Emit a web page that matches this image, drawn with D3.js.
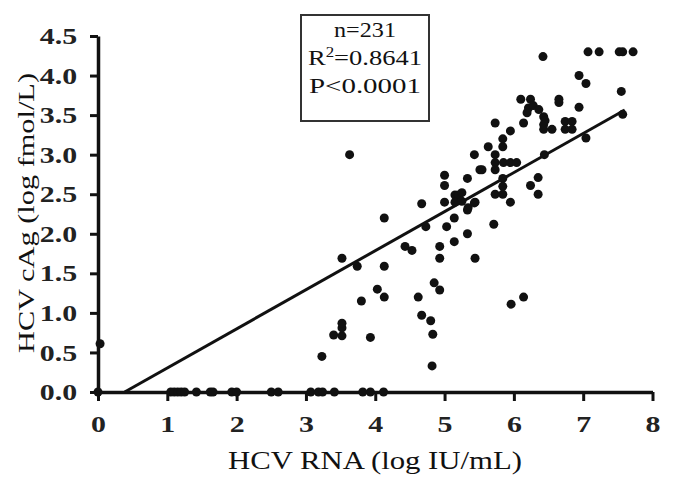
<!DOCTYPE html>
<html>
<head>
<meta charset="utf-8">
<script src="https://cdn.jsdelivr.net/npm/d3@7"></script>
<style>
  html, body { margin: 0; padding: 0; background: #fff; }
  svg { display: block; }
  .tick text { font-family: "Liberation Serif", "Times New Roman", serif; font-weight: bold; fill: #222; }
  .ttl { font-family: "Liberation Serif", "Times New Roman", serif; fill: #111; }
</style>
</head>
<body>
<svg id="chart"></svg>
<script>
// ── Data: HCV RNA (log IU/mL) vs HCV cAg (log fmol/L) ──
const rnaValues = [
  0, 1.05, 1.1, 1.15, 1.2, 1.25, 1.42, 1.62, 1.66, 1.93, 2.0, 2.5, 2.6,
  3.07, 3.18, 3.24, 3.41, 3.82, 3.93, 4.12,
  0.03, 3.23, 3.40, 3.52, 3.52, 3.52, 3.93, 3.52, 3.74, 3.80, 4.03, 4.13, 4.13, 4.13, 3.63,
  4.43, 4.53, 4.62, 4.67, 4.80, 4.83, 4.82, 4.85, 4.93, 4.93, 4.93, 4.67, 4.73, 5.03,
  5.0, 5.0, 5.0, 5.14, 5.14, 5.15, 5.2, 5.15, 5.25, 5.25,
  5.33, 5.33, 5.33, 5.34, 5.43, 5.43, 5.44, 5.44, 5.51, 5.54, 5.63, 5.71,
  5.73, 5.73, 5.73, 5.73, 5.73, 5.84, 5.84, 5.84, 5.84, 5.84,
  5.85, 5.95, 6.04, 5.95, 5.95, 5.96, 6.14, 6.1, 6.14,
  6.19, 6.21, 6.24, 6.28, 6.36, 6.24, 6.35, 6.35, 6.42,
  6.43, 6.45, 6.43, 6.43, 6.55, 6.44, 6.65, 6.65,
  6.74, 6.84, 6.74, 6.84, 6.94, 6.94, 7.04, 7.04,
  7.07, 7.23, 7.52, 7.57, 7.72, 7.55, 7.57
];
const cagValues = [
  0, 0, 0, 0, 0, 0, 0, 0, 0, 0, 0, 0, 0,
  0, 0, 0, 0, 0, 0, 0,
  0.61, 0.45, 0.72, 0.71, 0.81, 0.87, 0.69, 1.69, 1.59, 1.15, 1.30, 1.20, 1.59, 2.20, 3.00,
  1.84, 1.79, 1.20, 0.97, 0.90, 0.73, 0.33, 1.38, 1.29, 1.69, 1.84, 2.38, 2.09, 2.09,
  2.40, 2.61, 2.74, 2.20, 1.90, 2.49, 2.49, 2.40, 2.52, 2.41,
  2.00, 2.30, 2.70, 2.33, 2.39, 3.00, 1.69, 2.40, 2.81, 2.81, 3.10, 2.12,
  2.50, 2.81, 2.90, 3.00, 3.40, 2.60, 2.50, 2.70, 3.10, 3.20,
  2.90, 2.90, 2.90, 2.40, 3.30, 1.11, 1.20, 3.70, 3.40,
  3.53, 3.59, 3.70, 3.62, 3.57, 2.61, 2.71, 2.50, 4.24,
  3.48, 3.43, 3.38, 3.32, 3.32, 3.00, 3.70, 3.66,
  3.42, 3.42, 3.32, 3.32, 4.00, 3.60, 3.90, 3.21,
  4.30, 4.30, 4.30, 4.30, 4.30, 3.80, 3.51
];
const xTicks = [0, 1, 2, 3, 4, 5, 6, 7, 8];
const yTicks = [0, 0.5, 1, 1.5, 2, 2.5, 3, 3.5, 4, 4.5];
// linear fit
const fitSlope = 0.494;
const fitIntercept = -0.19;
const fitRange = [0.385, 7.6];
const statLines = ["n=231", "R2=0.8641", "P<0.0001"];

const W = 675, H = 488;
const svg = d3.select('#chart').attr('width', W).attr('height', H);

const x = d3.scaleLinear().domain([0, 8]).range([98, 652.5]);
const y = d3.scaleLinear().domain([0, 4.5]).range([392, 36]);

// Axes
const xAxis = svg.append('g').attr('transform', `translate(0,${y(0)})`)
  .call(d3.axisBottom(x).tickValues(xTicks).tickFormat(d3.format('d')).tickSize(9).tickSizeOuter(0));
const yAxis = svg.append('g').attr('transform', `translate(${x(0)},0)`)
  .call(d3.axisLeft(y).tickValues(yTicks).tickFormat(d3.format('.1f')).tickSize(8).tickSizeOuter(0).tickPadding(8));

[xAxis, yAxis].forEach(g => {
  g.select('.domain').attr('stroke', '#111').attr('stroke-width', 3.5);
  g.selectAll('.tick line').attr('stroke', '#111').attr('stroke-width', 3);
  g.selectAll('.tick text').attr('font-size', 23).attr('transform', 'scale(1.3,1)');
});
xAxis.selectAll('.tick text').attr('y', 40).attr('dy', 0);
yAxis.selectAll('.tick text').attr('dy', '0.33em');

// Regression line
svg.append('path')
  .datum(fitRange.map(v => [v, fitSlope * v + fitIntercept]))
  .attr('d', d3.line().x(d => x(d[0])).y(d => y(d[1])))
  .attr('fill', 'none').attr('stroke', '#111').attr('stroke-width', 3);

// Points
svg.selectAll('.pt')
  .data(d3.zip(rnaValues, cagValues))
  .join('circle').attr('class', 'pt')
  .attr('cx', d => x(d[0])).attr('cy', d => y(d[1]))
  .attr('r', 4.5).attr('fill', '#111');

// Axis titles
svg.append('text').attr('class', 'ttl')
  .attr('x', 375).attr('y', 469).attr('text-anchor', 'middle')
  .attr('font-size', 26).attr('textLength', 294).attr('lengthAdjust', 'spacingAndGlyphs')
  .text('HCV RNA (log IU/mL)');
svg.append('text').attr('class', 'ttl')
  .attr('transform', 'translate(34,213) rotate(-90)').attr('text-anchor', 'middle')
  .attr('font-size', 24).attr('textLength', 280).attr('lengthAdjust', 'spacingAndGlyphs')
  .text('HCV cAg (log fmol/L)');

// Stats box
svg.append('rect').attr('x', 301).attr('y', 15).attr('width', 128).attr('height', 106)
  .attr('fill', '#fff').attr('stroke', '#333').attr('stroke-width', 2);
const lineW = [62, 114, 112];
statLines.forEach((s, i) => {
  const t = svg.append('text').attr('class', 'ttl')
    .attr('x', 365).attr('y', 37 + i * 28).attr('text-anchor', 'middle')
    .attr('font-size', 22).attr('textLength', lineW[i]).attr('lengthAdjust', 'spacingAndGlyphs');
  if (s.startsWith('R2')) {
    t.append('tspan').text('R');
    t.append('tspan').attr('font-size', 14).attr('dy', -8).text('2');
    t.append('tspan').attr('dy', 8).text(s.slice(2));
  } else {
    t.text(s);
  }
});
</script>
</body>
</html>
